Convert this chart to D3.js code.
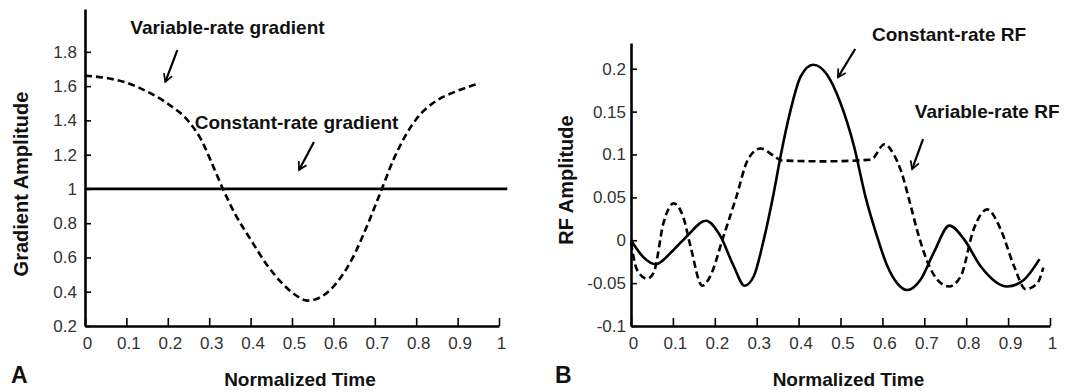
<!DOCTYPE html>
<html lang="en">
<head>
<meta charset="utf-8">
<title>Gradient and RF amplitude</title>
<script src="https://cdn.jsdelivr.net/npm/d3@7"></script>
<style>
  body { margin: 0; background: #fff; }
  svg { display: block; font-family: "Liberation Sans", Arial, sans-serif; }
  .tick text { fill: #333; font-size: 17px; }
  .title { font-weight: bold; font-size: 19px; fill: #111; }
  .ytitle { font-weight: bold; font-size: 20px; fill: #111; }
  .note { font-weight: bold; font-size: 19px; fill: #111; }
  .letter { font-weight: bold; font-size: 23px; fill: #111; }
</style>
</head>
<body>
<svg id="chart" width="1071" height="392"></svg>
<script>
// ---- data ----
const xTicks = [0, 0.1, 0.2, 0.3, 0.4, 0.5, 0.6, 0.7, 0.8, 0.9, 1];
const gradTicks = [0.2, 0.4, 0.6, 0.8, 1, 1.2, 1.4, 1.6, 1.8];
const rfTicks = [-0.1, -0.05, 0, 0.05, 0.1, 0.15, 0.2];

// panel A
const constGradTime = [0, 1.02];
const constGrad = [1, 1];
const varGradTime = [0, 0.05, 0.1, 0.15, 0.2, 0.25, 0.28, 0.31, 0.335, 0.36, 0.4, 0.44, 0.48, 0.51, 0.537,
  0.57, 0.6, 0.644, 0.684, 0.717, 0.745, 0.773, 0.802, 0.846, 0.895, 0.953];
const varGrad = [1.66, 1.648, 1.62, 1.568, 1.497, 1.395, 1.29, 1.13, 0.99, 0.865, 0.705, 0.555, 0.44, 0.378, 0.348,
  0.37, 0.43, 0.586, 0.8, 1.0, 1.17, 1.306, 1.413, 1.51, 1.568, 1.616];

// panel B
const constRFTime = [0, 0.03, 0.058, 0.102, 0.134, 0.179, 0.213, 0.245, 0.271, 0.293, 0.317, 0.341, 0.357, 0.381,
  0.405, 0.435, 0.468, 0.5, 0.532, 0.56, 0.585, 0.61, 0.635, 0.659, 0.691, 0.723, 0.76, 0.795, 0.834, 0.898,
  0.938, 0.975];
const constRF = [0, -0.02, -0.028, -0.011, 0.005, 0.0227, 0.005, -0.03, -0.053, -0.042, 0.001, 0.056, 0.098, 0.152,
  0.191, 0.2046, 0.193, 0.16, 0.11, 0.05, 0.008, -0.028, -0.05, -0.058, -0.046, -0.014, 0.017, 0.001, -0.03, -0.054,
  -0.046, -0.022];
const varRFTime = [0, 0.014, 0.038, 0.054, 0.078, 0.102, 0.126, 0.142, 0.17, 0.189, 0.221, 0.251, 0.279, 0.309,
  0.342, 0.36, 0.46, 0.573, 0.605, 0.627, 0.645, 0.665, 0.685, 0.705, 0.731, 0.759, 0.787, 0.818, 0.85, 0.882,
  0.914, 0.942, 0.97, 0.984];
const varRF = [-0.003, -0.034, -0.045, -0.038, 0.021, 0.043, 0.025, -0.007, -0.053, -0.042, 0.005, 0.05, 0.094, 0.107,
  0.098, 0.093, 0.092, 0.094, 0.112, 0.1, 0.08, 0.045, 0.008, -0.022, -0.046, -0.054, -0.042, 0.013, 0.036, 0.013,
  -0.03, -0.057, -0.05, -0.032];

const svg = d3.select("#chart");

function panel(opt) {
  const x = d3.scaleLinear().domain([0, 1]).range(opt.xr);
  const y = d3.scaleLinear().domain(opt.yd).range([326, opt.top]);
  const g = svg.append("g");

  const xa = g.append("g").attr("transform", "translate(0,326)")
    .call(d3.axisBottom(x).tickValues(xTicks).tickFormat(d => String(d))
      .tickSizeInner(-8).tickSizeOuter(0).tickPadding(11));
  const ya = g.append("g").attr("transform", `translate(${opt.xr[0]},0)`)
    .call(d3.axisLeft(y).tickValues(opt.yTicks).tickFormat(d => String(d))
      .tickSizeInner(-6).tickSizeOuter(0).tickPadding(opt.yPad));
  [xa, ya].forEach(a => {
    a.select(".domain").attr("stroke", "#000").attr("stroke-width", 2.6);
    a.selectAll(".tick line").attr("stroke", "#000").attr("stroke-width", 1.6);
    a.selectAll(".tick text").attr("font-family", null).attr("font-size", null);
  });
  xa.selectAll(".tick text").attr("dx", 2);

  const line = d3.line().x(d => x(d[0])).y(d => y(d[1])).curve(d3.curveMonotoneX);
  opt.series.forEach(s => {
    g.append("path")
      .datum(d3.zip(s.t, s.v))
      .attr("fill", "none")
      .attr("stroke", "#000")
      .attr("stroke-width", 2.6)
      .attr("stroke-dasharray", s.dash ? "7,4" : null)
      .attr("d", line);
  });

  opt.notes.forEach(n => {
    g.append("text").attr("class", "note")
      .attr("x", x(n.x)).attr("y", y(n.y))
      .attr("text-anchor", "middle").text(n.label);
    g.append("line")
      .attr("x1", x(n.a[0])).attr("y1", y(n.a[1]))
      .attr("x2", x(n.a[2])).attr("y2", y(n.a[3]))
      .attr("stroke", "#000").attr("stroke-width", 2.2)
      .attr("marker-end", "url(#head)");
  });

  g.append("text").attr("class", "ytitle")
    .attr("transform", `translate(${opt.ytx},${opt.yty}) rotate(-90)`)
    .attr("text-anchor", "middle").text(opt.yTitle);
  g.append("text").attr("class", "title")
    .attr("x", (opt.xr[0] + opt.xr[1]) / 2 + 8).attr("y", 386)
    .attr("text-anchor", "middle").text("Normalized Time");
  g.append("text").attr("class", "letter")
    .attr("x", opt.letterX).attr("y", 383).text(opt.letter);
}

svg.append("defs").append("marker")
  .attr("id", "head").attr("viewBox", "0 0 10 10")
  .attr("refX", 8).attr("refY", 5)
  .attr("markerWidth", 5).attr("markerHeight", 5)
  .attr("markerUnits", "strokeWidth")
  .attr("orient", "auto")
  .append("path").attr("d", "M1,1 L8,5 L1,9")
  .attr("fill", "none").attr("stroke", "#000").attr("stroke-width", 1.6);

panel({
  xr: [85, 499], yd: [0.2, 2.05], top: 9, yTicks: gradTicks, yPad: 8,
  yTitle: "Gradient Amplitude", ytx: 28, yty: 184, letter: "A", letterX: 11,
  series: [
    { t: constGradTime, v: constGrad, dash: false },
    { t: varGradTime, v: varGrad, dash: true }
  ],
  notes: [
    { label: "Variable-rate gradient", x: 0.344, y: 1.906, a: [0.223, 1.81, 0.194, 1.625] },
    { label: "Constant-rate gradient", x: 0.511, y: 1.35, a: [0.553, 1.274, 0.517, 1.111] }
  ]
});

panel({
  xr: [631, 1050], yd: [-0.1, 0.23], top: 43, yTicks: rfTicks, yPad: 5,
  yTitle: "RF Amplitude", ytx: 573, yty: 180, letter: "B", letterX: 555,
  series: [
    { t: constRFTime, v: constRF, dash: false },
    { t: varRFTime, v: varRF, dash: true }
  ],
  notes: [
    { label: "Constant-rate RF", x: 0.759, y: 0.2325, a: [0.535, 0.223, 0.494, 0.19] },
    { label: "Variable-rate RF", x: 0.85, y: 0.1426, a: [0.697, 0.118, 0.671, 0.083] }
  ]
});
</script>
</body>
</html>
